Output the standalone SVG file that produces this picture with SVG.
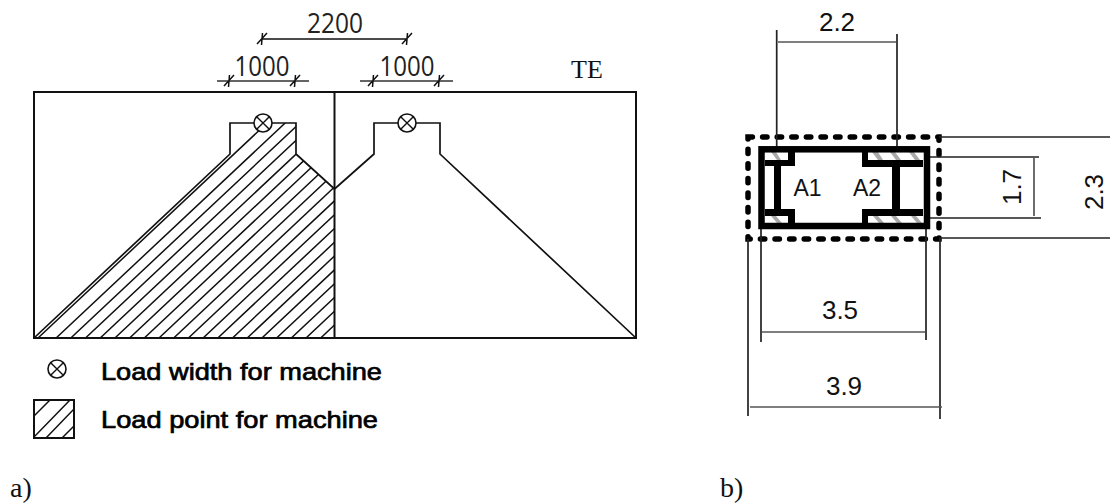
<svg xmlns="http://www.w3.org/2000/svg" width="1110" height="504" viewBox="0 0 1110 504">
<style>
.l{fill:none;stroke:#111;stroke-width:2}
.t{fill:none;stroke:#111;stroke-width:1.5}
.d{fill:none;stroke:#555;stroke-width:1.7}
.k{fill:#000}
.cad{font-family:"Open Sans","Liberation Sans",sans-serif;font-weight:400;font-size:27px;fill:#222;text-anchor:middle}
.leg{font-family:"Liberation Sans",sans-serif;font-size:24px;fill:#000;stroke:#000;stroke-width:.7}
.ar{font-family:"Liberation Sans",sans-serif;font-size:26px;fill:#111;text-anchor:middle}
.se{font-family:"Liberation Serif",serif;font-size:28px;fill:#111}
</style>
<defs>
<clipPath id="hc"><polygon points="34,338 230,154 230,123 296,123 296,154 334.5,189 334.5,338"/></clipPath>
<clipPath id="lc"><rect x="34" y="400" width="40" height="38"/></clipPath>
<g id="sym"><circle r="9" fill="#fff" stroke="#111" stroke-width="1.6"/><path d="M-6.300,-6.300L6.300,6.300M-6.300,6.300L6.300,-6.300" stroke="#111" stroke-width="1.4" fill="none"/></g>
</defs>

<g id="panel-a">
<rect x="34" y="92" width="602" height="246" class="l"/>
<line x1="334.5" y1="92" x2="334.5" y2="338" class="l"/>
<g clip-path="url(#hc)"><path class="t" d="M320.7,338l300,-281.6M306,338l300,-281.6M291.3,338l300,-281.6M276.6,338l300,-281.6M261.9,338l300,-281.6M247.2,338l300,-281.6M232.5,338l300,-281.6M217.8,338l300,-281.6M203.1,338l300,-281.6M188.4,338l300,-281.6M173.7,338l300,-281.6M159,338l300,-281.6M144.3,338l300,-281.6M129.6,338l300,-281.6M114.9,338l300,-281.6M100.2,338l300,-281.6M85.5,338l300,-281.6M70.8,338l300,-281.6M56.1,338l300,-281.6M38,338l300,-281.6"/></g>
<path class="t" style="stroke-width:1.7" d="M34,338L230,154V123H296V154L334.5,189L374,154V123H440V154L636,338"/>
<use href="#sym" x="263" y="123"/>
<use href="#sym" x="407" y="123"/>
<path class="t" d="M262,39H407M257,44L267,33M262.5,33L261.5,45M402,44L412,33M407.5,33L406.5,45"/>
<path class="d" style="stroke:#333" d="M217,81H309M360,81H453"/>
<path class="t" d="M224,86L234,75M229.500,75L228.500,87M290,86L300,75M295.500,75L294.500,87M368,86L378,75M373.500,75L372.500,87M434,86L444,75M439.500,75L438.500,87"/>
<text class="cad" x="335" y="33" textLength="56" lengthAdjust="spacingAndGlyphs">2200</text>
<text class="cad" x="262" y="76" textLength="55" lengthAdjust="spacingAndGlyphs">1000</text>
<text class="cad" x="407" y="76" textLength="55" lengthAdjust="spacingAndGlyphs">1000</text>
<text x="571" y="78" font-family="Liberation Serif,serif" font-size="26" fill="#111">TE</text>
</g>

<g id="legend">
<use href="#sym" x="57" y="369"/>
<text class="leg" x="101" y="380" textLength="281" lengthAdjust="spacingAndGlyphs">Load width for machine</text>
<rect x="34" y="400" width="40" height="38" class="l"/>
<path class="t" clip-path="url(#lc)" d="M34,416L50,400M34,437L70,400M46,438L74,409M62,438L74,426"/>
<text class="leg" x="101" y="428" textLength="277" lengthAdjust="spacingAndGlyphs">Load point for machine</text>
</g>

<g id="panel-b">
<rect x="748" y="137" width="191" height="102" fill="none" stroke="#000" stroke-width="5.500" stroke-dasharray="4.400 10.200" stroke-linecap="round"/>
<path class="t" style="stroke-width:1.700;stroke:#222" d="M776.700,30V146M897,34V146M939,137H1110M939,238H1110M930,157H1039M930,218H1041M748,239V416M940,239V419M761,229V342M926,229V340"/>
<path class="d" d="M778,42H896M1034,158V216M762,332H925M750,407H942"/>
<g fill="#aaa"><path d="M771,152h5l5,8h-4zM872,152h6l5,8h-5zM890,152h5l6,8h-5zM909,152h5l6,8h-5zM771,216h5l6,7h-5zM873,216h5l6,7h-5zM891,216h5l6,7h-5zM911,216h5l6,7h-5z"/></g>
<rect x="761.500" y="149.300" width="165.500" height="76.700" fill="none" stroke="#000" stroke-width="6.500"/>
<path class="k" d="M765,160H788V152H795V166H781V209H795V223H788V216H765V209H774V166H765ZM868,152V160H923V167H900V209H923V216H868V223H862V209H892V167H862V152Z"/>
<text class="ar" style="font-size:23px" x="807.500" y="196">A1</text>
<text class="ar" style="font-size:23px" x="867" y="196">A2</text>
<text class="ar" x="837" y="31">2.2</text>
<text class="ar" x="840" y="319">3.5</text>
<text class="ar" x="844" y="395">3.9</text>
<text class="ar" transform="translate(1020.500 187) rotate(-90)">1.7</text>
<text class="ar" transform="translate(1103 192) rotate(-90)">2.3</text>
</g>
<text class="se" x="10" y="497">a)</text>
<text class="se" x="720" y="497">b)</text>
</svg>
